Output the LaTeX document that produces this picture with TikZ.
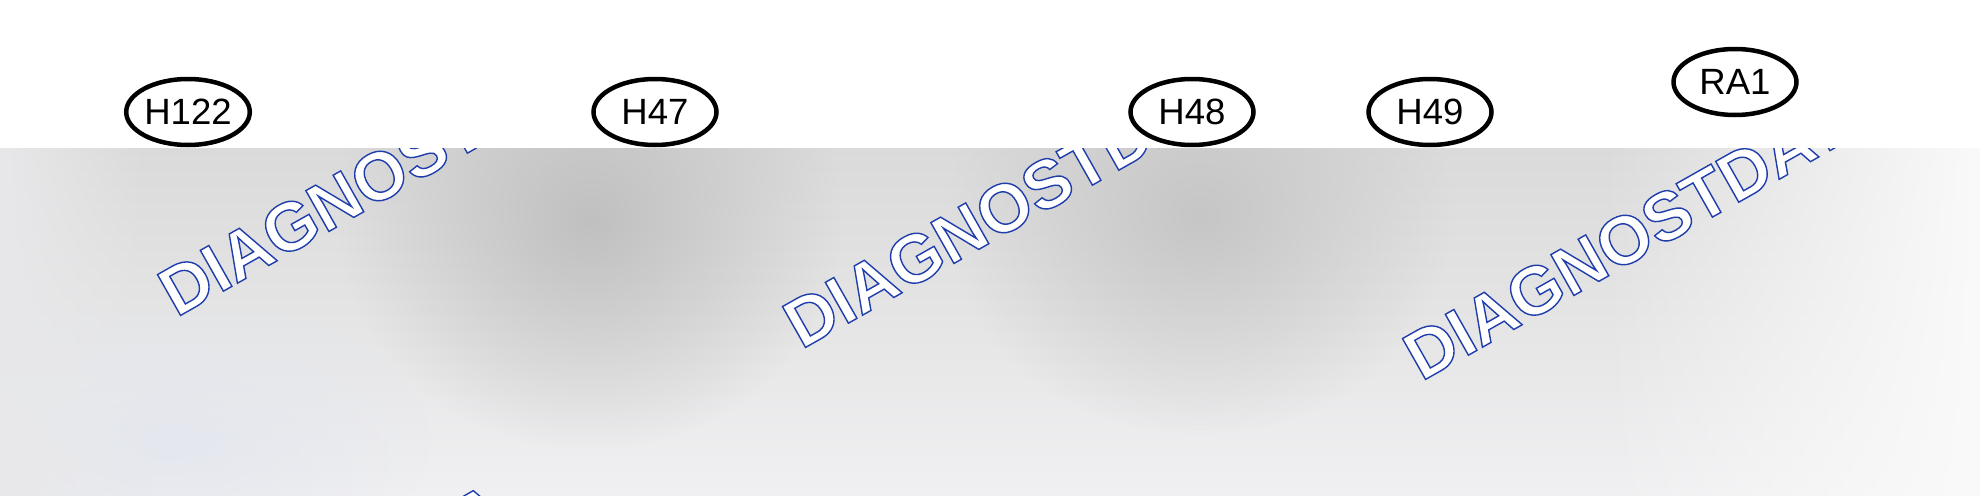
\documentclass[tikz,border=0pt]{standalone}
\usepackage{fontspec}
\setmainfont{Liberation Sans}
\usepackage{xcolor}
\definecolor{markblue}{RGB}{30,60,170}
\definecolor{bandtop}{RGB}{218,218,218}
\definecolor{bandbottom}{RGB}{240,240,242}
\definecolor{spotgray}{RGB}{192,192,192}
\definecolor{edgewhite}{RGB}{250,250,250}
\definecolor{sidegray}{RGB}{232,232,234}
\definecolor{bluegray}{RGB}{228,231,238}
\usetikzlibrary{shapes.geometric,fadings}

\tikzfading[name=spot, inner color=transparent!0, outer color=transparent!100]
\tikzfading[name=fade right, left color=transparent!100, right color=transparent!0]
\tikzfading[name=fade left, left color=transparent!0, right color=transparent!100]

% outlined watermark text (white fill, blue stroke)
\newcommand{\outlinetext}[1]{\special{pdf:literal direct 2 Tr 0.4 w 0.12 0.24 0.67 RG}#1\special{pdf:literal direct 0 Tr}}

\begin{document}
\begin{tikzpicture}[
    x=0.1mm, y=-0.1mm,
    tag/.style={ellipse, draw=black, line width=0.45mm, fill=white, inner sep=0pt, minimum width=12.3mm, minimum height=6.6mm, font=\fontsize{10.4}{12}\selectfont},
    stamp/.style={rotate=29.5, inner sep=0pt, anchor=base west, text=white, font=\fontsize{19.4}{20}\bfseries\selectfont},
    band/.style={top color=bandtop, bottom color=bandbottom}
]
\useasboundingbox (0,0) rectangle (1980,496);
\fill[white] (0,0) rectangle (1980,148);

% Shaded band
\begin{scope}
\clip (0,148) rectangle (1980,496);
\shade[band] (0,148) rectangle (1980,496);
\fill[spotgray, path fading=spot] (590,220) ellipse (250 and 230);
\fill[spotgray!75!bandtop, path fading=spot] (1200,215) ellipse (250 and 220);
\fill[bluegray, path fading=spot] (170,440) ellipse (260 and 140);
\fill[sidegray, path fading=fade left] (0,148) rectangle (150,496);
\fill[edgewhite, path fading=fade right] (1600,148) rectangle (1980,496);

% Watermarks
\foreach \wx/\wy [count=\i] in {176/318, 801/350, 1421/382, 43/788}
  \node[stamp] (mark\i) at (\wx,\wy) {\outlinetext{DIAGNOSTDATA}};
\end{scope}

% Labels
\node[tag] (h122) at (188,112) {H122};
\node[tag] (h47) at (655,112) {H47};
\node[tag] (h48) at (1192,112) {H48};
\node[tag] (h49) at (1430,112) {H49};
\node[tag] (ra1) at (1735,82) {RA1};

\end{tikzpicture}
\end{document}
